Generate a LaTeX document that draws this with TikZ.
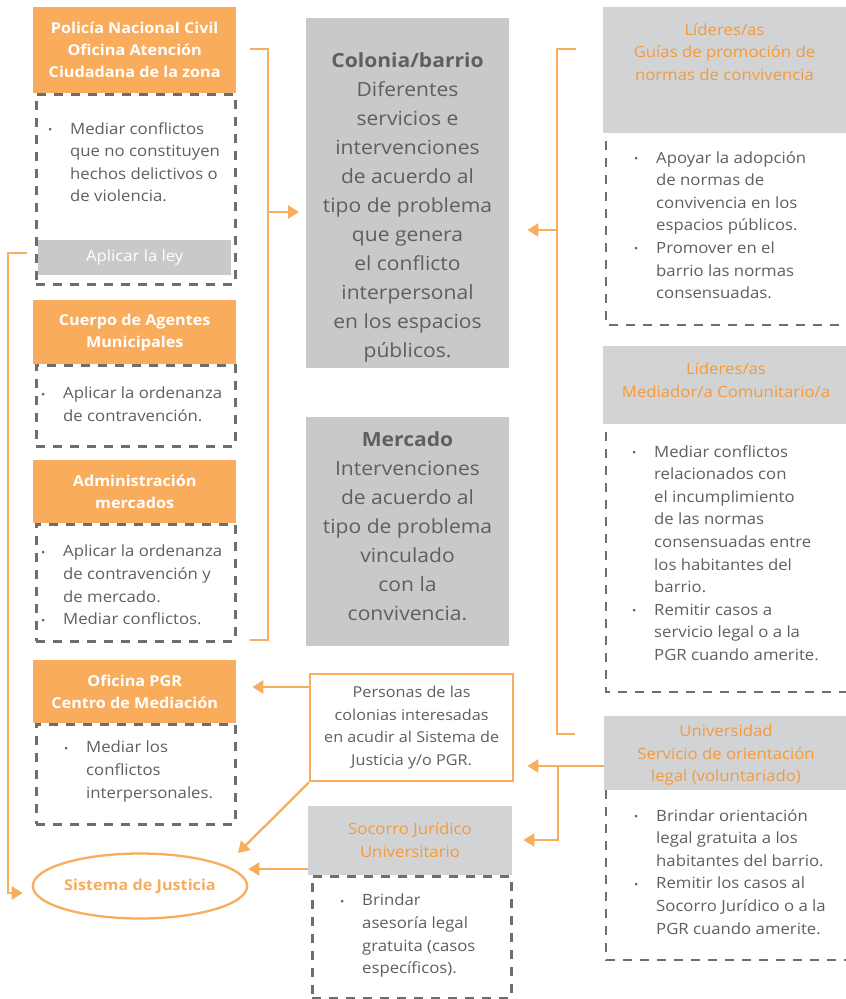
\documentclass[tikz,border=0pt]{standalone}
\usepackage{fontspec}
\setmainfont[FakeStretch=1.08]{Open Sans}
\usetikzlibrary{arrows.meta,shapes.geometric}
\definecolor{org}{HTML}{F9AC5B}
\definecolor{orgtxt}{HTML}{F69A3B}
\definecolor{hgray}{HTML}{D1D3D4}
\definecolor{cgray}{HTML}{C8C9CB}
\definecolor{txtg}{HTML}{5E5F61}
\definecolor{dashg}{HTML}{6D6E71}
\newcommand\bulx{\makebox[22pt][l]{\raisebox{0.5pt}{\fontsize{10.5}{10}\selectfont\textbullet}}}
\newcommand\indx{\hspace*{22pt}}
\tikzset{
  hdr/.style={fill=org, text=white, font=\bfseries\fontsize{15}{22}\selectfont, align=center, inner sep=0pt, anchor=north west},
  ghdr/.style={fill=hgray, inner sep=0pt, anchor=north west},
  ghtxt/.style={text=orgtxt, font=\fontsize{15.5}{22.3}\selectfont, align=center, inner sep=0pt},
  dbox/.style={draw=dashg, line width=2.5pt, dash pattern=on 9pt off 8pt, inner sep=0pt, anchor=north west},
  dline/.style={draw=dashg, line width=2.5pt, dash pattern=on 9pt off 8pt},
  lst/.style={text=txtg, font=\fontsize{15.5}{22.6}\selectfont, align=left, inner sep=0pt, anchor=north west},
  cbox/.style={fill=cgray, inner sep=0pt, anchor=north west},
  ctxt/.style={text=txtg, font=\fontsize{19.5}{29}\selectfont, align=center, inner sep=0pt, anchor=north},
  conn/.style={draw=org, line width=2.3pt},
  arr/.style={conn, -{Triangle[width=13pt,length=11pt]}},
}
\begin{document}
\begin{tikzpicture}[x=1pt,y=-1pt]
\useasboundingbox (0,0) rectangle (846,999);
\clip (0,0) rectangle (846,999);

% ---------- left column ----------
\node[dbox, minimum width=199, minimum height=190] (pncb) at (35,93) {};
\node[hdr, minimum width=203, minimum height=86] (pnc) at (33,7) {Policía Nacional Civil\\Oficina Atención\\Ciudadana de la zona};
\node[lst] (pncl) at (48,122) {\bulx Mediar conflictos\\\indx que no constituyen\\\indx hechos delictivos o\\\indx de violencia.};
\node[cbox, minimum width=193, minimum height=35, text=white, font=\fontsize{15.5}{18}\selectfont] (ley) at (38,240) {Aplicar la ley};

\node[dbox, minimum width=199, minimum height=81] (camb) at (35,364) {};
\node[hdr, minimum width=203, minimum height=64] (cam) at (33,300) {Cuerpo de Agentes\\Municipales};
\node[lst] (caml) at (41,387) {\bulx Aplicar la ordenanza\\\indx de contravención.};

\node[dbox, minimum width=199, minimum height=117] (admb) at (35,523) {};
\node[hdr, minimum width=203, minimum height=63] (adm) at (33,460) {Administración\\mercados};
\node[lst] (adml) at (41,545) {\bulx Aplicar la ordenanza\\\indx de contravención y\\\indx de mercado.\\\bulx Mediar conflictos.};

\node[dbox, minimum width=199, minimum height=100] (pgrb) at (35,723) {};
\node[hdr, minimum width=203, minimum height=63] (pgr) at (33,660) {Oficina PGR\\Centro de Mediación};
\node[lst] (pgrl) at (64,741) {\bulx Mediar los\\\indx conflictos\\\indx interpersonales.};

\node[ellipse, draw=org, line width=2.3pt, fill=white, minimum width=208, minimum height=65, inner sep=0pt,
      text=org, font=\bfseries\fontsize{15}{18}\selectfont] (sj) at (140,886) {Sistema de Justicia};

% ---------- centre column ----------
\node[cbox, minimum width=203, minimum height=350] (col) at (306,18) {};
\node[ctxt] (colt) at (407.5,52) {\textbf{Colonia/barrio}\\Diferentes\\servicios e\\intervenciones\\de acuerdo al\\tipo de problema\\que genera\\el conflicto\\interpersonal\\en los espacios\\públicos.};
\node[cbox, minimum width=203, minimum height=229] (mer) at (306,417) {};
\node[ctxt] (mert) at (407.5,431) {\textbf{Mercado}\\Intervenciones\\de acuerdo al\\tipo de problema\\vinculado\\con la\\convivencia.};

\node[draw=org, line width=2.3pt, fill=white, minimum width=203, minimum height=107, inner sep=0pt, anchor=north west,
      text=txtg, font=\fontsize{15}{22.6}\selectfont, align=center] (pers) at (309,673) {Personas de las\\colonias interesadas\\en acudir al Sistema de\\Justicia y/o PGR.};

\node[dbox, minimum width=199, minimum height=122] (socb) at (311,875) {};
\node[ghdr, minimum width=204, minimum height=69] (soc) at (308,806) {};
\node[ghtxt] (soct) at (410,840) {Socorro Jurídico\\Universitario};
\node[lst] (socl) at (340,894) {\bulx Brindar\\\indx asesoría legal\\\indx gratuita (casos\\\indx específicos).};

% ---------- right column ----------
\node[ghdr, minimum width=243, minimum height=126] (lid1) at (603,7) {};
\node[ghtxt] (lid1t) at (724.5,52) {Líderes/as\\Guías de promoción de\\normas de convivencia};
\draw[dline] (606,141) -- (606,325) -- (860,325);
\node[lst] (lid1l) at (634,151) {\bulx Apoyar la adopción\\\indx de normas de\\\indx convivencia en los\\\indx espacios públicos.\\\bulx Promover en el\\\indx barrio las normas\\\indx consensuadas.};

\node[ghdr, minimum width=243, minimum height=78] (lid2) at (603,346) {};
\node[ghtxt] (lid2t) at (726,380) {Líderes/as\\Mediador/a Comunitario/a};
\draw[dline] (606,432) -- (606,692) -- (860,692);
\node[lst] (lid2l) at (632,445) {\bulx Mediar conflictos\\\indx relacionados con\\\indx el incumplimiento\\\indx de las normas\\\indx consensuadas entre\\\indx los habitantes del\\\indx barrio.\\\bulx Remitir casos a\\\indx servicio legal o a la\\\indx PGR cuando amerite.};

\node[ghdr, minimum width=242, minimum height=74] (uni) at (604,716) {};
\node[ghtxt] (unit) at (726,755) {Universidad\\Servicio de orientación\\legal (voluntariado)};
\draw[dline] (606,790) -- (606,960) -- (860,960);
\node[lst] (unil) at (634,809) {\bulx Brindar orientación\\\indx legal gratuita a los\\\indx habitantes del barrio.\\\bulx Remitir los casos al\\\indx Socorro Jurídico o a la\\\indx PGR cuando amerite.};

% ---------- connectors ----------
\coordinate (lbtop) at (250,49);
\coordinate (lbbot) at (250,640);
\coordinate (lbarr) at (268,212);
\draw[conn] (lbtop) -- (268,49) -- (268,640) -- (lbbot);
\draw[arr, shorten >=7pt] (lbarr) -- (col.west |- lbarr);

\coordinate (rbtop) at (576,49);
\coordinate (rbbot) at (575,734);
\coordinate (rbarr) at (557,230);
\draw[conn] (rbtop) -- (557,49) -- (557,734) -- (rbbot);
\draw[arr, shorten >=18pt] (rbarr) -- (col.east |- rbarr);

\coordinate (ua) at (604,766);
\coordinate (ub) at (558,766);
\coordinate (uc) at (558,840);
\draw[arr, shorten >=13pt] (ua) -- (pers.east |- ua);
\draw[arr, shorten >=11pt] (ub) -- (uc) -- (soc.east |- uc);

\coordinate (pa) at (309,687);
\draw[arr, shorten >=16pt] (pa) -- (pgr.east |- pa);
\coordinate (sjtip) at (238,853);
\draw[arr] (pers.south west) -- (sjtip);

\coordinate (sa) at (308,869);
\draw[arr] (sa) -- (sj.east |- sa);

\coordinate (la) at (27,253);
\coordinate (lb) at (8,893);
\draw[arr, shorten >=9pt] (la) -- (8,253) -- (lb) -- (sj.west |- lb);
\end{tikzpicture}
\end{document}
